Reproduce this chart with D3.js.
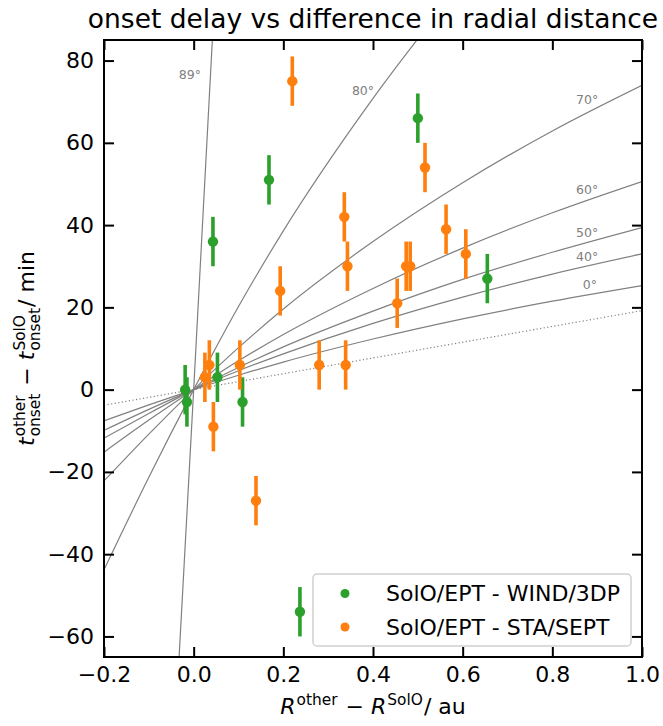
<!DOCTYPE html>
<html>
<head>
<meta charset="utf-8">
<script src="https://cdn.jsdelivr.net/npm/d3@7"></script>
<style>
  body { margin: 0; background: #fff; }
  text { font-family: "DejaVu Sans", sans-serif; white-space: pre; }
</style>
</head>
<body>
<script>
// --- data ---
// SolO/EPT - WIND/3DP
const windDr = [0.500, 0.168, 0.043, 0.655, -0.019, -0.015, 0.053, 0.109, 0.237];
const windDt = [66, 51, 36, 27, 0, -3, 3, -3, -54];
// SolO/EPT - STA/SEPT
const staDr = [0.220, 0.516, 0.336, 0.563, 0.607, 0.343, 0.474, 0.483, 0.454, 0.193,
               0.280, 0.339, 0.103, 0.025, 0.035, 0.044, 0.139];
const staDt = [75, 54, 42, 39, 33, 30, 30, 30, 21, 24,
               6, 6, 6, 3, 6, -9, -27];
const dtErr = 6;

// guide curves (pitch angles), sampled from the figure
const guideX   = [-0.2, -0.1, 0, 0.1, 0.2, 0.4, 0.6, 0.8, 1.0];
const guide0   = [-7.6, -3.7, 0, 3.5, 6.7, 12.3, 17.2, 21.5, 25.3];
const guide40  = [-9.9, -4.8, 0, 4.6, 8.7, 16.1, 22.5, 28.1, 33.0];
const guide50  = [-11.8, -5.8, 0, 5.4, 10.4, 19.1, 26.8, 33.4, 39.4];
const guide60  = [-15.2, -7.4, 0, 7.0, 13.4, 24.6, 34.4, 43.0, 50.6];
const guide70  = [-22.2, -10.8, 0, 10.2, 19.6, 36.0, 50.3, 62.9, 74.0];
const guide80X = [-0.2, -0.1, 0, 0.1, 0.2, 0.4, 0.6];
const guide80  = [-43.8, -21.3, 0, 20.2, 38.6, 70.8, 99.1];
const guide89X = [-0.04, 0, 0.05];
const guide89  = [-80, 0, 102];
const dottedX  = [-0.2, 1.0];
const dottedY  = [-3.8, 19.2];

const guideLabels = ['0°', '40°', '50°', '60°', '70°', '80°', '89°'];
const xTicks = [-0.2, 0.0, 0.2, 0.4, 0.6, 0.8, 1.0];
const yTicks = [-60, -40, -20, 0, 20, 40, 60, 80];

// --- layout ---
const W = 663, H = 726;
const m = { top: 40, right: 21, bottom: 69, left: 104 };
const iw = W - m.left - m.right, ih = H - m.top - m.bottom;

const svg = d3.select('body').append('svg').attr('width', W).attr('height', H);
const g = svg.append('g').attr('transform', `translate(${m.left},${m.top})`);

const x = d3.scaleLinear().domain([-0.2, 1.0]).range([0, iw]);
const y = d3.scaleLinear().domain([-65, 85]).range([ih, 0]);

svg.append('defs').append('clipPath').attr('id', 'clip')
   .append('rect').attr('width', iw).attr('height', ih);

const plot = g.append('g').attr('clip-path', 'url(#clip)');

const line = d3.line().x(d => x(d[0])).y(d => y(d[1])).curve(d3.curveMonotoneX);

const guides = [
  [guideX, guide0], [guideX, guide40], [guideX, guide50], [guideX, guide60],
  [guideX, guide70], [guide80X, guide80], [guide89X, guide89]
];
guides.forEach(([xs, ys]) => {
  plot.append('path')
      .attr('d', line(xs.map((v, i) => [v, ys[i]])))
      .attr('fill', 'none').attr('stroke', '#808080').attr('stroke-width', 1.2);
});
plot.append('path')
    .attr('d', line(dottedX.map((v, i) => [v, dottedY[i]])))
    .attr('fill', 'none').attr('stroke', '#808080').attr('stroke-width', 1.2)
    .attr('stroke-dasharray', '1.2,2.4');

// angle labels (placement in data coords)
const labelAt = [[0.868, 24.4], [0.853, 31.3], [0.853, 37.0], [0.853, 47.6],
                 [0.853, 69.5], [0.353, 71.6], [-0.033, 75.5]];
guideLabels.forEach((t, i) => {
  g.append('text').attr('x', x(labelAt[i][0])).attr('y', y(labelAt[i][1]))
   .attr('font-size', 12.5).attr('fill', '#808080').text(t);
});

// data series
const series = [
  { xs: windDr, ys: windDt, color: '#2ca02c', name: 'SolO/EPT - WIND/3DP' },
  { xs: staDr, ys: staDt, color: '#ff7f0e', name: 'SolO/EPT - STA/SEPT' }
];
series.forEach(s => {
  const pts = s.xs.map((v, i) => ({ x: v, y: s.ys[i] }));
  const sg = plot.append('g');
  sg.selectAll('line').data(pts).enter().append('line')
    .attr('x1', d => x(d.x)).attr('x2', d => x(d.x))
    .attr('y1', d => y(d.y - dtErr)).attr('y2', d => y(d.y + dtErr))
    .attr('stroke', s.color).attr('stroke-width', 3.6);
  sg.selectAll('circle').data(pts).enter().append('circle')
    .attr('cx', d => x(d.x)).attr('cy', d => y(d.y)).attr('r', 5.2)
    .attr('fill', s.color);
});

// axes
const fs = 22;
const xAxis = g.append('g').attr('transform', `translate(0,${ih})`)
  .call(d3.axisBottom(x).tickValues(xTicks).tickFormat(d3.format('.1f'))
        .tickSizeInner(-10).tickSizeOuter(0).tickPadding(9));
const yAxis = g.append('g')
  .call(d3.axisLeft(y).tickValues(yTicks).tickFormat(d3.format('d'))
        .tickSizeInner(-10).tickSizeOuter(0).tickPadding(10));
const xTop = g.append('g')
  .call(d3.axisTop(x).tickValues(xTicks).tickFormat('').tickSizeInner(-10).tickSizeOuter(0));
const yRight = g.append('g').attr('transform', `translate(${iw},0)`)
  .call(d3.axisRight(y).tickValues(yTicks).tickFormat('').tickSizeInner(-10).tickSizeOuter(0));

[xAxis, yAxis, xTop, yRight].forEach(a => {
  a.select('.domain').remove();
  a.selectAll('.tick line').attr('stroke', '#000').attr('stroke-width', 2);
  a.selectAll('.tick text').attr('font-size', fs).attr('fill', '#000')
   .style('font-family', '"DejaVu Sans", sans-serif');
});

g.append('rect').attr('width', iw).attr('height', ih)
 .attr('fill', 'none').attr('stroke', '#000').attr('stroke-width', 2);

// title
svg.append('text').attr('x', m.left + iw / 2).attr('y', 28)
   .attr('text-anchor', 'middle').attr('font-size', 26.5).text('onset delay vs difference in radial distance');

// math-like labels
function mathLabel(parent, parts, size) {
  let cx = 0;
  parts.forEach(p => {
    if (p.t) {
      const t = parent.append('text').attr('x', cx).attr('font-size', size).text(p.t);
      if (p.italic) t.attr('font-style', 'italic');
      cx += t.node().getComputedTextLength();
    }
    let w = 0;
    if (p.sup) {
      const s = parent.append('text').attr('x', cx + 1).attr('y', -size * 0.42)
        .attr('font-size', size * 0.7).text(p.sup);
      w = Math.max(w, s.node().getComputedTextLength());
    }
    if (p.sub) {
      const s = parent.append('text').attr('x', cx + 1).attr('y', size * 0.25)
        .attr('font-size', size * 0.7).text(p.sub);
      w = Math.max(w, s.node().getComputedTextLength());
    }
    if (w) cx += w + 2;
  });
  return cx;
}

const xl = svg.append('g');
const xlw = mathLabel(xl, [
  { t: 'R', italic: true, sup: 'other' }, { t: '\u00a0−\u00a0' },
  { t: 'R', italic: true, sup: 'SolO' }, { t: '/ au' }
], fs);
xl.attr('transform', `translate(${m.left + iw / 2 - xlw / 2},${H - 12})`);

const yl = svg.append('g');
const ylw = mathLabel(yl, [
  { t: 't', italic: true, sup: 'other', sub: 'onset' }, { t: '\u00a0−\u00a0' },
  { t: 't', italic: true, sup: 'SolO', sub: 'onset' }, { t: '/ min' }
], fs);
yl.attr('transform', `translate(34,${m.top + ih / 2 + ylw / 2}) rotate(-90)`);

// legend
const lg = svg.append('g').attr('transform', 'translate(313,574)');
lg.append('rect').attr('width', 318).attr('height', 72).attr('rx', 4)
  .attr('fill', 'rgba(255,255,255,0.8)').attr('stroke', '#d0d0d0').attr('stroke-width', 1.5);
series.forEach((s, i) => {
  const yy = 19.5 + i * 33.5;
  lg.append('circle').attr('cx', 32).attr('cy', yy).attr('r', 4.5).attr('fill', s.color);
  lg.append('text').attr('x', 73).attr('y', yy).attr('dy', '0.36em')
    .attr('font-size', fs).text(s.name);
});
</script>
</body>
</html>
